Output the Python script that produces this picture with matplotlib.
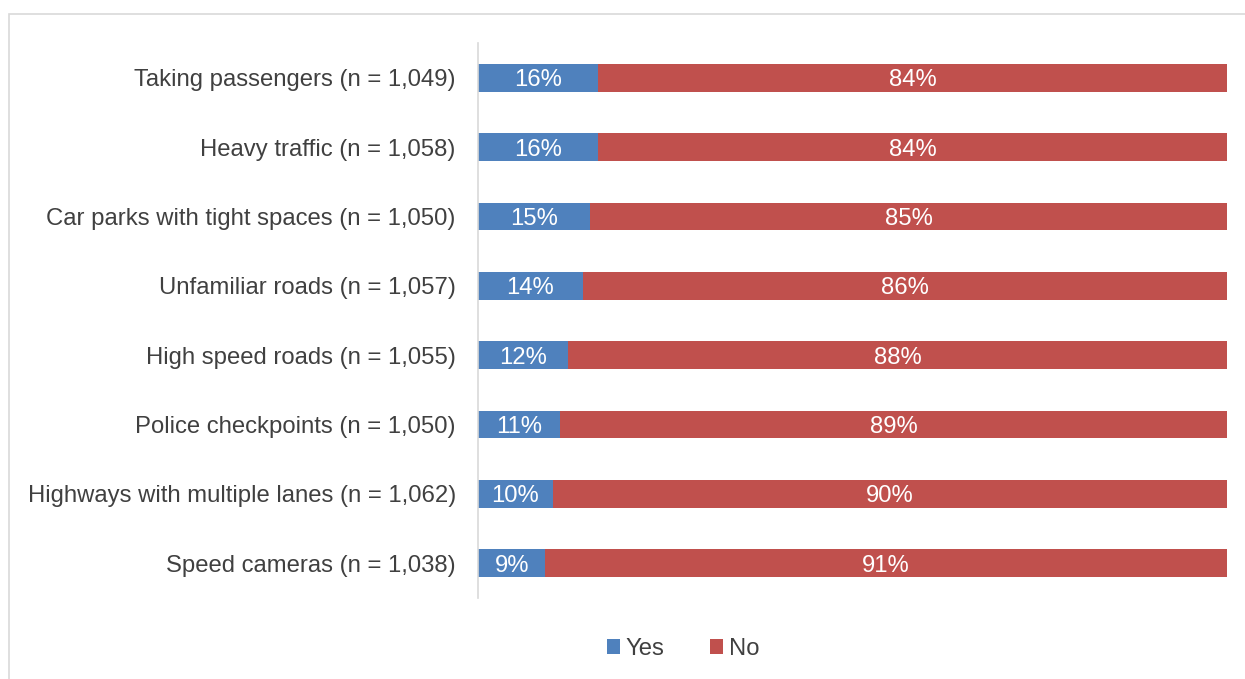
import numpy as np
import matplotlib.pyplot as plt
from matplotlib.patches import Rectangle

plt.rcParams['font.family'] = ['Liberation Sans', 'DejaVu Sans']

# === Survey data ===
categories = [
    "Taking passengers (n = 1,049)",
    "Heavy traffic (n = 1,058)",
    "Car parks with tight spaces (n = 1,050)",
    "Unfamiliar roads (n = 1,057)",
    "High speed roads (n = 1,055)",
    "Police checkpoints (n = 1,050)",
    "Highways with multiple lanes (n = 1,062)",
    "Speed cameras (n = 1,038)",
]
yes_pct = [16, 16, 15, 14, 12, 11, 10, 9]
no_pct = [84, 84, 85, 86, 88, 89, 90, 91]

blue = "#4F81BD"
red = "#C0504D"
text_grey = "#404040"
fs = 17.2

W, H = 1245, 679
fig = plt.figure(figsize=(W / 100, H / 100), dpi=100)
ax = fig.add_axes([478 / W, 1 - 598 / H, (1227 - 478) / W, (598 - 43) / H])

y = np.arange(len(categories))
ax.barh(y, yes_pct, height=0.4, color=blue, label="Yes")
ax.barh(y, no_pct, left=yes_pct, height=0.4, color=red, label="No")

# segment labels
for i in range(len(categories)):
    ax.text(yes_pct[i] / 2, y[i], f"{yes_pct[i]}%", ha="center",
            va="center_baseline", color="white", fontsize=fs)
    ax.text(yes_pct[i] + no_pct[i] / 2, y[i], f"{no_pct[i]}%", ha="center",
            va="center_baseline", color="white", fontsize=fs)

ax.set_xlim(0, 100)
ax.set_ylim(len(categories) - 0.5, -0.5)
ax.set_yticks(y)
ax.set_yticklabels(categories, fontsize=fs, color=text_grey)
ax.tick_params(axis="y", length=0, pad=16)
ax.set_xticks([])
for side in ["top", "right", "bottom"]:
    ax.spines[side].set_visible(False)
ax.spines["left"].set_color("#D9D9D9")
ax.spines["left"].set_linewidth(1.2)

# === Legend ===
handles, labels = ax.get_legend_handles_labels()
leg = fig.legend(handles, labels, loc="center", bbox_to_anchor=(683 / W, 1 - 649 / H),
                 ncol=2, frameon=False, fontsize=fs, handlelength=0.55,
                 handleheight=0.55, handletextpad=0.25, columnspacing=1.9)
for t in leg.get_texts():
    t.set_color(text_grey)

# chart frame
fig.patches.append(Rectangle((9 / W, -0.05), 1.1, 1 - 14 / H + 0.05,
                             transform=fig.transFigure, fill=False,
                             edgecolor="#D9D9D9", linewidth=1.2))

fig.savefig("out.png", dpi=100)
